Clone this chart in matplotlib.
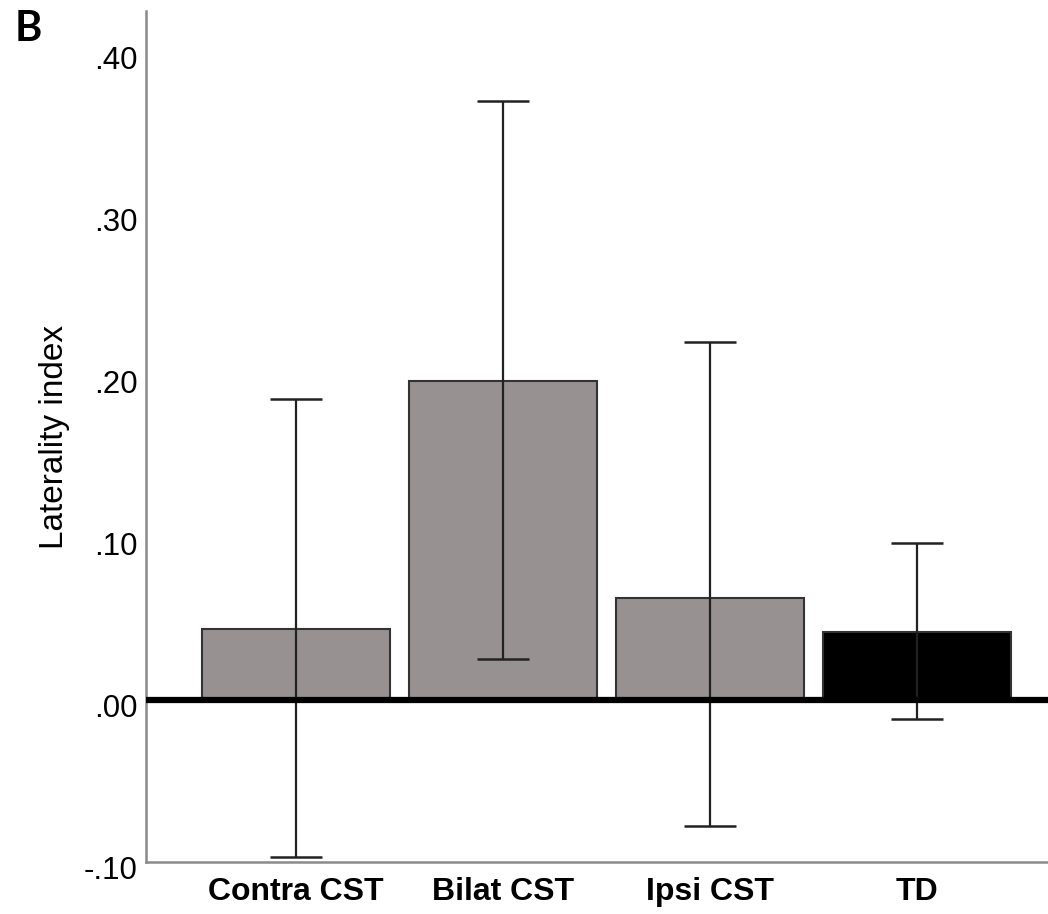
import numpy as np
import matplotlib.pyplot as plt
import matplotlib.transforms as mtransforms

# valores
grupos = ["Contra CST", "Bilat CST", "Ipsi CST", "TD"]
medias = [0.044, 0.197, 0.063, 0.042]
ic_sup = [0.186, 0.370, 0.221, 0.097]
ic_inf = [-0.097, 0.025, -0.078, -0.012]
cores = ["#989191", "#989191", "#989191", "#000000"]
ticks_y = [-0.10, 0.0, 0.10, 0.20, 0.30, 0.40]
rotulos_y = ["-.10", ".00", ".10", ".20", ".30", ".40"]

fig = plt.figure(figsize=(10.48, 9.14), dpi=100)
ax = fig.add_axes([0.1393, 0.0569, 0.8607, 0.9311])

x = np.arange(len(grupos))
erro = [np.array(medias) - np.array(ic_inf), np.array(ic_sup) - np.array(medias)]
ax.bar(x, medias, width=0.91, color=cores, edgecolor="#333333", linewidth=1.5, zorder=2)
ax.errorbar(x, medias, yerr=erro, fmt="none", ecolor="#222222", elinewidth=1.6,
            capsize=18.4, capthick=1.8, zorder=3)
ax.axhline(0, color="black", linewidth=4.5, zorder=4)

ax.set_xlim(-0.725, 3.633)
ax.set_ylim(-0.10, 0.4253)
ax.set_xticks(x)
ax.set_xticklabels(grupos, fontsize=23, fontweight="bold", family="Liberation Sans")
ax.set_yticks(ticks_y)
ax.set_yticklabels(rotulos_y, fontsize=22.5, family="Liberation Sans")
ax.tick_params(axis="both", length=0, pad=6)
ax.tick_params(axis="x", pad=11)
ax.set_ylabel("Laterality index", fontsize=24, family="Liberation Sans", labelpad=10)

# rótulos do eixo y ficam um pouco abaixo da posição no original
desloc = mtransforms.ScaledTranslation(0, -4 / 72, fig.dpi_scale_trans)
for rot in ax.get_yticklabels():
    rot.set_transform(rot.get_transform() + desloc)

for lado in ["top", "right"]:
    ax.spines[lado].set_visible(False)
for lado in ["left", "bottom"]:
    ax.spines[lado].set_color("#8a8a8a")
    ax.spines[lado].set_linewidth(1.8)

fig.text(0.014, 0.955, "B", fontsize=30, fontweight="bold", family="Lato")

plt.savefig("out.png", dpi=100)
